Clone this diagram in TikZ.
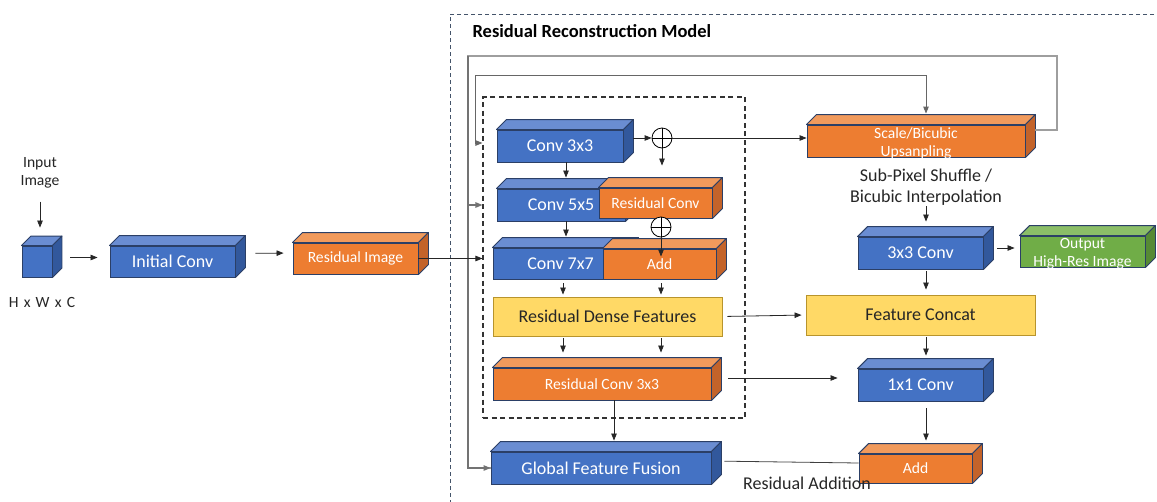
\documentclass[tikz,border=0pt]{standalone}
\usepackage{fontspec}
\setmainfont{Carlito}
\usetikzlibrary{calc,arrows.meta}

\definecolor{bfront}{HTML}{4472C4}
\definecolor{btop}{HTML}{6A8DD2}
\definecolor{bside}{HTML}{32589C}
\definecolor{ofront}{HTML}{ED7D31}
\definecolor{otop}{HTML}{F19A5C}
\definecolor{oside}{HTML}{C3632A}
\definecolor{gfront}{HTML}{70AD47}
\definecolor{gtop}{HTML}{8BBE68}
\definecolor{gside}{HTML}{568A34}
\definecolor{yfill}{HTML}{FFD966}
\definecolor{yedge}{HTML}{B8942C}
\definecolor{edge}{HTML}{2B3F66}
\definecolor{frameblue}{HTML}{44546A}
\definecolor{ink}{HTML}{262626}

% top and right faces of a cuboid whose front face is node #1
\newcommand\cubefaces[4]{%
  \filldraw[fill=#2, draw=edge, line width=0.9pt, line join=round]
    (#1.north west) -- ++(#4pt,#4pt) -- ($(#1.north east)+(#4pt,#4pt)$) -- (#1.north east) -- cycle;
  \filldraw[fill=#3, draw=edge, line width=0.9pt, line join=round]
    (#1.north east) -- ++(#4pt,#4pt) -- ($(#1.south east)+(#4pt,#4pt)$) -- (#1.south east) -- cycle;}

% two centred lines that do not enlarge their box
\newcommand\twolines[2]{\smash{\raisebox{-6pt}{\begin{tabular}{@{}c@{}}#1\\#2\end{tabular}}}}

\begin{document}
\begin{tikzpicture}[x=1pt,y=-1pt,
  big/.style={font=\fontsize{18}{21}\selectfont},
  small/.style={font=\fontsize{15.6}{18}\selectfont},
  cube/.style={draw=edge, line width=0.9pt, inner sep=0pt, text=white},
  bcube/.style={cube, fill=bfront},
  ocube/.style={cube, fill=ofront},
  gcube/.style={cube, fill=gfront},
  ybox/.style={draw=yedge, line width=0.9pt, fill=yfill, inner sep=0pt, text=ink},
  oplus/.style={circle, draw=black, line width=0.8pt, fill=white, minimum size=20pt, inner sep=0pt,
    path picture={\draw[line width=0.8pt] (path picture bounding box.north) -- (path picture bounding box.south)
      (path picture bounding box.west) -- (path picture bounding box.east);}},
  arr/.style={draw=black!85, line width=0.8pt, -{Triangle[length=7pt,width=5.5pt]}},
  plain/.style={draw=black!75, line width=0.8pt},
  loopline/.style={draw=black!38, line width=1.2pt},
  skipline/.style={draw=black!60, line width=0.9pt},
  label/.style={text=ink, inner sep=1pt, align=center}
]
\useasboundingbox (0,0) rectangle (1157,501);
\clip (0,0) rectangle (1157,501);
\fill[white] (0,0) rectangle (1157,501);

% outer dashed frame of the reconstruction model
\draw[frameblue, line width=1pt, dash pattern=on 4pt off 3pt] (1175,14) -- (450,14) -- (450,520);
\node[anchor=west, text=black, font=\fontsize{18.5}{22}\selectfont\bfseries] (title) at (469,31) {Residual Reconstruction Model};

% inner dashed block
\node[draw=black!80, line width=1.1pt, dash pattern=on 5pt off 3.5pt, minimum width=262, minimum height=321, inner sep=0pt] (inner) at (614,257.5) {};

% column helpers
\coordinate (colR) at (926,0);
\coordinate (colA) at (566,0);
\coordinate (colL) at (563,0);
\coordinate (colB) at (661,0);
\coordinate (loopNE) at (1057,56);
\coordinate (loopNW) at (468,56);
\coordinate (skipNW) at (475,75);

% ---------- input side ----------
\node[label, small] (inlabel) at (40,173) {Input\\Image};
\node[bcube, minimum width=30, minimum height=31] (incube) at (37,261.5) {};
\cubefaces{incube}{btop}{bside}{9.5}
\node[label, small] (hwc) at (42,302) {H\,\,x\,\,W\,\,x\,\,C};

\node[bcube, big, minimum width=125, minimum height=31] (initconv) at (172.5,261.5) {Initial Conv};
\cubefaces{initconv}{btop}{bside}{10}

\node[ocube, small, minimum width=125, minimum height=31] (resimg) at (355.5,258.5) {Residual Image};
\cubefaces{resimg}{otop}{oside}{10}

% ---------- residual dense block ----------
\node[bcube, big, minimum width=126, minimum height=32] (conv3) at (560,146) {Conv 3x3};
\cubefaces{conv3}{btop}{bside}{10}

\node[bcube, big, minimum width=128, minimum height=32] (conv5) at (561,205) {Conv 5x5};
\cubefaces{conv5}{btop}{bside}{10}
\node[ocube, small, minimum width=113, minimum height=30] (resconv) at (655.5,203) {Residual Conv};
\cubefaces{resconv}{otop}{oside}{10}

\node[bcube, big, minimum width=135, minimum height=31] (conv7) at (560.5,263.5) {Conv 7x7};
\cubefaces{conv7}{btop}{bside}{10}
\node[ocube, small, minimum width=113, minimum height=30] (add1) at (659.5,264) {Add};
\cubefaces{add1}{otop}{oside}{10}

\node[oplus] (plus1) at (662,138) {};
\node[oplus] (plus2) at (661,227) {};

\node[ybox, big, minimum width=229, minimum height=39] (rdf) at (607.5,316.5) {Residual Dense Features};

\node[ocube, small, minimum width=218, minimum height=32] (rc33) at (602,384) {Residual Conv 3x3};
\cubefaces{rc33}{otop}{oside}{10}

\node[bcube, big, minimum width=220, minimum height=32] (gff) at (601,468) {Global Feature Fusion};
\cubefaces{gff}{btop}{bside}{10}

% ---------- upsampling branch ----------
\node[ocube, small, minimum width=218, minimum height=32] (scale) at (916,141) {\twolines{Scale/Bicubic}{Upsanpling}};
\cubefaces{scale}{otop}{oside}{10}

\node[label, big, align=center] (sublabel) at (926,187) {Sub-Pixel Shuffle /\\Bicubic Interpolation};

\node[bcube, big, minimum width=125, minimum height=32] (conv33) at (920.5,253) {3x3 Conv};
\cubefaces{conv33}{btop}{bside}{10}

\node[gcube, small, minimum width=125, minimum height=31] (output) at (1082.5,251.5) {\twolines{Output}{High-Res Image}};
\cubefaces{output}{gtop}{gside}{10}

\node[ybox, big, minimum width=229, minimum height=40] (fc) at (920.5,315) {Feature Concat};

\node[bcube, big, minimum width=125, minimum height=32] (conv11) at (920.5,385) {1x1 Conv};
\cubefaces{conv11}{btop}{bside}{10}

\node[ocube, small, minimum width=113, minimum height=29] (add2) at (915.5,468.5) {Add};
\cubefaces{add2}{otop}{oside}{10}

\node[label, big] (addlabel) at (807,483) {Residual Addition};

% ---------- skip loops ----------
\coordinate (scaletop) at ([yshift=11pt]scale.north);
\coordinate (scaleout) at ([xshift=10pt,yshift=11pt]scale.east);
\coordinate (c3in) at ([yshift=3pt]conv3.west);

\draw[loopline] (scaleout) -| (loopNE) -- (loopNW) |- (gff.west);
\draw[loopline, -{Triangle[length=7pt,width=5.5pt]}, draw=black!55] (loopNW) |- (gff.west);
\draw[loopline, draw=black!55, -{Triangle[length=7pt,width=5.5pt]}] (loopNW |- conv5.west) -- (inner.west |- conv5.west);

\draw[skipline, -{Triangle[length=7pt,width=5.5pt]}] (skipNW) -| (scaletop -| colR);
\draw[skipline, -{Triangle[length=7pt,width=5.5pt]}] (skipNW) |- (inner.west |- c3in);

% ---------- connectors ----------
\draw[arr, shorten <=12pt, shorten >=18pt] (inlabel.south) -- (inlabel.south |- incube.north);
\draw[arr, shorten <=18pt, shorten >=12pt] ([yshift=4pt]incube.east) -- ([yshift=4pt]initconv.west);
\draw[arr, shorten <=20pt, shorten >=9pt] ([yshift=8pt]initconv.east) -- ([yshift=5.5pt]resimg.west);
\draw[arr] (resimg.east) -- (inner.west |- resimg.east);

\draw[arr, shorten <=10pt] (conv3.east |- plus1.west) -- (plus1.west);
\draw[arr] (plus1.east) -- (scale.west |- plus1.east);
\draw[arr, shorten >=22pt] (plus1.south) -- (plus1.south |- resconv.north);

\draw[arr, shorten >=11pt] (conv3.south -| colA) -- (conv5.north -| colA);
\draw[arr, shorten >=11pt] (conv5.south -| colA) -- (conv7.north -| colA);
\draw[arr, shorten >=-8pt] (plus2.south) -- (plus2.south |- add1.north);

\draw[arr, shorten <=4pt, shorten >=2pt] (conv7.south -| colL) -- (rdf.north -| colL);
\draw[arr, shorten <=4pt, shorten >=2pt] (add1.south -| colB) -- (rdf.north -| colB);
\draw[arr, shorten <=2pt, shorten >=15pt] (rdf.south -| colL) -- (rc33.north -| colL);
\draw[arr, shorten <=2pt, shorten >=15pt] (rdf.south -| colB) -- (rc33.north -| colB);
\draw[arr, shorten <=5pt, shorten >=4pt] (rdf.east) -- (fc.west);

\coordinate (r33) at ([yshift=6pt]rc33.east);
\draw[arr, shorten <=17pt, shorten >=20pt] (r33) -- (conv11.west |- r33);
\draw[arr, shorten >=11pt] (rc33.south -| inner.center) -- (gff.north -| inner.center);

\draw[plain, shorten <=13pt] ([yshift=7pt]gff.east) -- ([yshift=5.5pt]add2.west);

\draw[arr, shorten >=15pt] (sublabel.south -| colR) -- (conv33.north -| colR);
\draw[arr, shorten <=14pt, shorten >=5pt] ([yshift=5pt]conv33.east) -- ([yshift=3.5pt]output.west);
\draw[arr, shorten <=2pt, shorten >=5pt] (conv33.south -| colR) -- (fc.north -| colR);
\draw[arr, shorten <=2pt, shorten >=13pt] (fc.south -| colR) -- (conv11.north -| colR);
\draw[arr, shorten <=7pt, shorten >=13pt] (conv11.south -| colR) -- (add2.north -| colR);
\end{tikzpicture}
\end{document}
